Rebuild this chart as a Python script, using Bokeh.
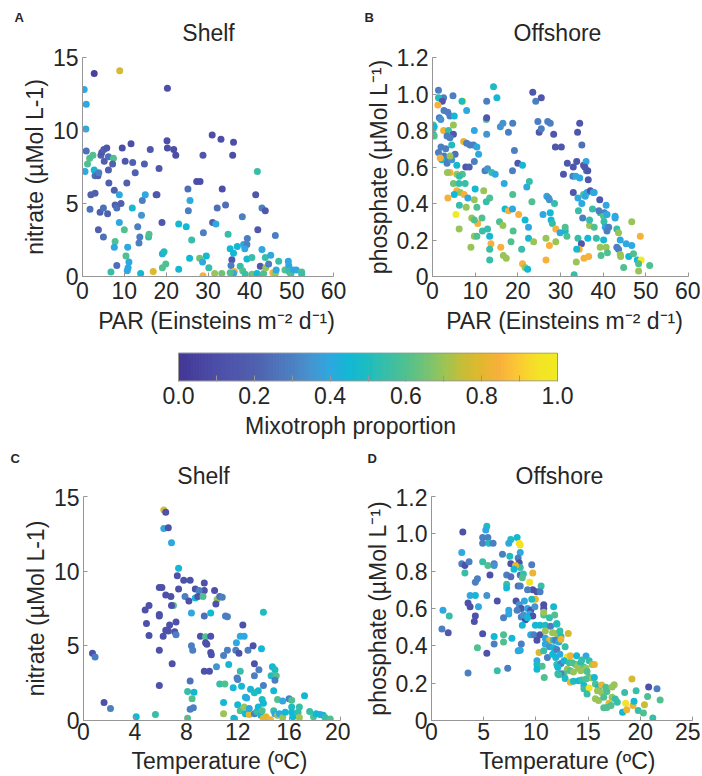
import numpy as np
from bokeh.plotting import figure
from bokeh.layouts import column, row
from bokeh.models import (LinearColorMapper, FixedTicker, ColumnDataSource,
                          CustomJSTickFormatter, Range1d)
from bokeh.core.properties import value
from bokeh.embed import file_html
from bokeh.resources import INLINE

# ---------------- data ----------------
# Panel A: Shelf, PAR vs nitrate, colour = mixotroph proportion
a_par = [2.8, 8.9, 0.4, 0.9, 0.8, 20.3, 0.9, 0.6, 1.2, 1.7,
         2.5, 2.8, 3.0, 3.7, 3.9, 2.0, 3.0, 1.8, 3.8, 4.2,
         5.0, 6.0, 5.0, 4.4, 4.6, 5.1, 5.8, 5.2, 6.2, 7.4,
         7.2, 6.3, 6.2, 7.6, 7.8, 8.2, 9.2, 8.8, 8.8, 7.8,
         7.6, 8.2, 6.8, 9.5, 10.2, 10.6, 10.0, 10.4, 10.8, 11.1,
         10.9, 10.7, 11.6, 12.0, 12.6, 11.9, 13.2, 13.5, 13.7, 14.1,
         14.3, 15.0, 14.8, 16.2, 13.9, 15.8, 15.9, 16.9, 17.6, 17.8,
         18.3, 19.0, 19.1, 19.5, 19.1, 19.9, 20.2, 20.3, 21.8, 22.3,
         23.0, 23.0, 24.8, 25.2, 25.3, 25.7, 25.6, 26.1, 27.3, 28.1,
         28.0, 28.7, 28.8, 28.8, 28.9, 29.6, 30.2, 31.0, 31.1, 31.9,
         32.2, 31.6, 33.1, 33.4, 33.3, 34.2, 34.8, 35.3, 35.7, 35.5,
         36.1, 35.9, 36.1, 36.3, 36.1, 35.3, 37.0, 38.2, 38.5, 39.3,
         39.4, 38.8, 39.3, 40.5, 37.7, 38.3, 38.9, 40.5, 41.4, 41.8,
         41.9, 41.7, 42.5, 42.9, 42.9, 43.7, 42.9, 43.3, 43.7, 43.8,
         44.5, 45.0, 45.5, 46.1, 46.1, 46.9, 46.3, 48.4, 49.2, 49.3,
         49.4, 49.8, 50.4, 51.1, 52.4, 52.4]
a_nitrate = [13.9, 14.1, 12.8, 11.8, 10.1, 12.9, 8.6, 7.2, 7.7, 8.1,
             8.3, 7.3, 6.9, 6.9, 7.1, 5.6, 5.7, 4.6, 3.2, 4.4,
             4.7, 4.3, 2.7, 8.3, 8.5, 8.7, 8.8, 7.9, 8.2, 8.1,
             7.7, 6.4, 7.3, 5.9, 4.9, 4.7, 5.0, 5.6, 3.7, 2.4,
             2.0, 0.75, 0.3, 8.8, 7.9, 6.4, 3.2, 1.4, 2.0, 1.0,
             0.6, 0.4, 9.1, 7.8, 7.1, 4.7, 3.4, 2.3, 2.7, 4.2,
             5.2, 5.6, 7.7, 8.7, 0.2, 2.7, 2.9, 0.35, 5.6, 5.6,
             7.4, 3.7, 1.55, 1.7, 0.6, 0.85, 9.3, 8.8, 8.7, 8.3,
             3.6, 0.5, 3.4, 6.0, 4.5, 5.2, 1.25, 2.5, 6.5, 6.5,
             1.25, 1.0, 0.05, 8.3, 3.0, 1.4, 0.6, 9.7, 3.7, 3.6,
             4.7, 0.2, 9.4, 6.0, 0.2, 4.9, 2.9, 1.9, 1.15, 0.75,
             9.2, 8.3, 1.6, 0.35, 0.2, 0.25, 2.05, 4.1, 2.2, 2.2,
             2.6, 1.9, 1.2, 1.3, 0.7, 0.4, 0.15, 0.15, 5.6, 7.2,
             3.2, 0.2, 0.7, 1.85, 4.7, 4.5, 0.05, 0.2, 1.3, 0.6,
             0.85, 1.45, 0.25, 2.8, 0.2, 1.05, 0.45, 0.45, 1.05, 0.75,
             0.35, 0.15, 0.45, 0.45, 0.3, 0.15]
a_mixo = [0.05, 0.78, 0.4, 0.4, 0.4, 0.1, 0.25, 0.4, 0.6, 0.6,
          0.6, 0.45, 0.25, 0.2, 0.3, 0.2, 0.2, 0.25, 0.2, 0.2,
          0.25, 0.2, 0.25, 0.2, 0.15, 0.2, 0.15, 0.2, 0.25, 0.6,
          0.2, 0.2, 0.2, 0.2, 0.2, 0.25, 0.2, 0.4, 0.4, 0.6,
          0.4, 0.25, 0.55, 0.1, 0.15, 0.2, 0.6, 0.6, 0.4, 0.4,
          0.4, 0.4, 0.1, 0.2, 0.2, 0.45, 0.3, 0.3, 0.3, 0.35,
          0.3, 0.4, 0.2, 0.15, 0.45, 0.55, 0.6, 0.8, 0.15, 0.15,
          0.15, 0.15, 0.4, 0.5, 0.6, 0.6, 0.1, 0.1, 0.1, 0.1,
          0.45, 0.45, 0.45, 0.25, 0.3, 0.4, 0.45, 0.55, 0.1, 0.1,
          0.65, 0.4, 0.85, 0.15, 0.3, 0.45, 0.55, 0.1, 0.2, 0.4,
          0.25, 0.7, 0.1, 0.1, 0.65, 0.25, 0.55, 0.45, 0.15, 0.3,
          0.1, 0.1, 0.45, 0.85, 0.4, 0.6, 0.45, 0.3, 0.4, 0.3,
          0.3, 0.4, 0.45, 0.55, 0.55, 0.6, 0.55, 0.65, 0.15, 0.55,
          0.15, 0.45, 0.15, 0.4, 0.3, 0.15, 0.55, 0.6, 0.55, 0.7,
          0.3, 0.4, 0.85, 0.3, 0.7, 0.55, 0.4, 0.6, 0.4, 0.4,
          0.55, 0.6, 0.4, 0.4, 0.6, 0.55]

# Panel B: Offshore, PAR vs phosphate
b_par = [1.4, 2.6, 1.4, 2.3, 1.25, 4.8, 7.1, 6.9, 8.0, 2.7,
         3.6, 4.1, 5.1, 1.6, 1.95, 0.2, 0.4, 0.2, 0.4, 4.9,
         2.6, 3.75, 4.9, 3.4, 4.1, 7.3, 8.0, 8.8, 9.6, 4.5,
         3.1, 2.0, 1.4, 2.7, 5.3, 2.2, 3.4, 3.75, 4.5, 1.8,
         4.1, 5.7, 7.8, 8.6, 9.8, 10.8, 10.4, 9.8, 12.6, 12.7,
         12.7, 12.7, 14.3, 15.1, 15.9, 16.5, 17.8, 18.8, 19.2, 20.0,
         21.1, 18.75, 12.3, 12.9, 13.9, 14.7, 5.7, 7.0, 6.3, 4.1,
         3.5, 4.9, 6.2, 7.65, 5.7, 6.5, 7.4, 5.1, 8.3, 3.6,
         10.0, 12.0, 13.4, 12.6, 9.8, 6.3, 7.9, 10.4, 5.5, 9.2,
         10.6, 9.8, 11.6, 6.25, 11.7, 12.9, 13.4, 9.8, 10.4, 13.7,
         13.4, 9.0, 13.4, 16.0, 15.7, 16.5, 16.8, 17.0, 17.8, 18.75,
         18.8, 20.2, 18.9, 18.4, 16.6, 17.3, 20.9, 21.1, 21.7, 22.3,
         21.7, 22.5, 22.5, 22.1, 22.7, 23.3, 23.7, 23.5, 24.2, 25.5,
         24.7, 25.0, 25.5, 27.0, 27.6, 28.4, 28.8, 30.2, 25.9, 26.8,
         27.2, 27.4, 27.6, 27.8, 28.1, 28.6, 26.6, 27.4, 28.9, 28.9,
         26.6, 29.9, 30.7, 31.1, 31.6, 31.5, 31.1, 33.0, 32.9, 33.8,
         34.0, 34.5, 35.0, 33.6, 34.5, 33.0, 34.1, 34.2, 35.0, 35.2,
         34.1, 34.9, 34.4, 33.8, 33.7, 33.2, 35.5, 36.6, 35.4, 35.8,
         36.2, 35.4, 36.0, 36.1, 36.4, 36.5, 35.7, 36.4, 36.8, 36.8,
         37.0, 37.7, 37.9, 37.5, 37.9, 38.4, 39.2, 39.3, 39.0, 39.3,
         39.5, 40.1, 40.3, 40.1, 40.2, 40.7, 40.9, 40.7, 41.0, 40.5,
         40.9, 41.3, 42.8, 42.8, 43.2, 43.6, 43.2, 43.6, 44.0, 44.0,
         44.1, 44.8, 45.4, 46.0, 46.7, 46.7, 47.1, 48.0, 48.7, 48.9,
         48.3, 48.3, 50.9]
b_phosphate = [1.02, 0.98, 0.98, 0.96, 0.94, 0.99, 0.96, 0.96, 0.91, 0.91,
               0.90, 0.88, 0.88, 0.87, 0.86, 0.83, 0.82, 0.78, 0.77, 0.83,
               0.80, 0.80, 0.78, 0.77, 0.76, 0.74, 0.73, 0.72, 0.72, 0.72,
               0.70, 0.71, 0.68, 0.66, 0.67, 0.64, 0.62, 0.64, 0.64, 0.65,
               0.66, 0.61, 0.60, 0.60, 0.63, 0.67, 0.71, 0.80, 0.86, 0.87,
               0.96, 0.78, 1.04, 0.98, 0.82, 0.84, 0.79, 0.84, 0.69, 0.62,
               0.61, 0.58, 0.58, 0.59, 0.57, 0.56, 0.56, 0.56, 0.55, 0.57,
               0.57, 0.51, 0.51, 0.51, 0.47, 0.46, 0.45, 0.45, 0.43, 0.43,
               0.48, 0.47, 0.43, 0.41, 0.42, 0.39, 0.38, 0.38, 0.34, 0.32,
               0.29, 0.31, 0.32, 0.26, 0.25, 0.26, 0.22, 0.22, 0.22, 0.18,
               0.15, 0.16, 0.09, 0.16, 0.30, 0.28, 0.51, 0.37, 0.36, 0.37,
               0.45, 0.34, 0.25, 0.19, 0.115, 0.10, 0.15, 0.07, 0.05, 0.04,
               0.31, 0.27, 0.21, 0.49, 0.52, 0.41, 0.19, 1.01, 0.96, 0.98,
               0.85, 0.79, 0.81, 0.85, 0.84, 0.78, 0.71, 0.71, 0.34, 0.44,
               0.43, 0.42, 0.35, 0.31, 0.29, 0.40, 0.21, 0.17, 0.19, 0.26,
               0.09, 0.24, 0.56, 0.25, 0.62, 0.22, 0.27, 0.60, 0.55, 0.63,
               0.79, 0.84, 0.72, 0.55, 0.54, 0.46, 0.43, 0.36, 0.40, 0.32,
               0.21, 0.18, 0.15, 0.15, 0.08, 0.01, 0.10, 0.11, 0.45, 0.44,
               0.46, 0.61, 0.63, 0.58, 0.58, 0.53, 0.60, 0.21, 0.28, 0.31,
               0.47, 0.46, 0.46, 0.37, 0.27, 0.21, 0.42, 0.35, 0.36, 0.16,
               0.115, 0.20, 0.35, 0.33, 0.30, 0.39, 0.34, 0.16, 0.13, 0.27,
               0.25, 0.27, 0.33, 0.32, 0.16, 0.15, 0.26, 0.24, 0.20, 0.12,
               0.11, 0.05, 0.18, 0.11, 0.30, 0.17, 0.125, 0.09, 0.22, 0.09,
               0.07, 0.03, 0.06]
b_mixo = [0.3, 0.3, 0.5, 0.15, 0.85, 0.3, 1.0, 0.5, 0.4, 0.3,
          0.3, 0.3, 0.45, 0.3, 0.35, 0.6, 0.45, 0.55, 0.6, 0.7,
          0.82, 0.55, 0.15, 0.3, 0.3, 0.8, 0.3, 0.3, 0.3, 0.5,
          0.3, 0.3, 0.3, 0.3, 0.25, 0.45, 0.3, 0.3, 0.35, 0.85,
          0.7, 0.45, 0.15, 0.2, 0.3, 0.4, 0.4, 0.4, 0.6, 0.15,
          0.3, 0.35, 0.5, 0.45, 0.35, 0.35, 0.3, 0.3, 0.3, 0.15,
          0.45, 0.3, 0.3, 0.35, 0.55, 0.4, 0.7, 0.6, 0.55, 0.85,
          0.7, 0.65, 0.55, 0.55, 0.85, 0.7, 0.85, 0.45, 0.4, 0.85,
          0.45, 0.7, 0.6, 0.55, 0.7, 0.55, 0.7, 0.6, 1.0, 0.7,
          0.85, 0.6, 0.6, 0.7, 0.55, 0.55, 0.45, 0.7, 0.6, 0.85,
          0.55, 0.7, 0.55, 0.85, 0.6, 0.7, 0.4, 0.45, 0.85, 0.4,
          0.6, 0.85, 0.6, 0.6, 0.7, 0.7, 0.55, 0.85, 0.7, 0.45,
          0.45, 0.4, 0.45, 0.4, 0.55, 0.6, 0.7, 0.15, 0.3, 0.15,
          0.3, 0.15, 0.3, 0.3, 0.3, 0.15, 0.15, 0.15, 0.4, 0.4,
          0.35, 0.35, 0.45, 0.45, 0.55, 0.55, 0.7, 0.85, 0.7, 0.85,
          0.85, 0.4, 0.15, 0.45, 0.15, 0.6, 0.6, 0.15, 0.3, 0.15,
          0.15, 0.15, 0.25, 0.4, 0.4, 0.15, 0.4, 0.55, 0.4, 0.3,
          0.55, 0.15, 0.85, 0.45, 0.7, 0.55, 0.85, 0.85, 0.6, 0.4,
          0.4, 0.15, 0.4, 0.3, 0.15, 0.15, 0.15, 0.45, 0.7, 0.55,
          0.15, 0.4, 0.4, 0.55, 0.6, 0.55, 0.15, 0.55, 0.3, 0.7,
          0.6, 0.45, 0.3, 0.6, 0.55, 0.4, 0.4, 0.7, 0.6, 0.4,
          0.3, 0.3, 0.4, 0.4, 0.3, 0.3, 0.55, 0.7, 0.4, 0.7,
          0.7, 0.6, 0.4, 0.45, 0.7, 0.4, 0.6, 0.45, 0.85, 1.0,
          0.6, 0.7, 0.6]

# Panel C: Shelf, temperature vs nitrate
c_temp = [6.25, 6.4, 6.25, 6.6, 6.85, 7.4, 7.3, 7.8, 8.3, 5.9,
          6.1, 7.4, 8.7, 9.4, 9.4, 9.0, 10.2, 6.4, 6.8, 7.9,
          8.2, 8.7, 8.9, 9.3, 10.4, 10.6, 10.8, 10.3, 7.0, 6.85,
          5.1, 4.8, 5.9, 5.9, 8.4, 9.4, 9.9, 11.05, 11.2, 14.0,
          4.9, 6.7, 7.2, 6.4, 6.6, 7.1, 7.2, 5.1, 6.2, 9.1,
          9.5, 9.9, 12.4, 12.2, 12.5, 9.5, 9.6, 8.4, 8.5, 5.9,
          9.9, 9.95, 11.2, 10.9, 11.9, 11.85, 12.1, 12.8, 13.2, 13.85,
          6.9, 9.4, 9.8, 10.35, 11.3, 12.2, 12.0, 11.95, 13.3, 13.65,
          13.3, 14.7, 14.9, 14.6, 15.0, 14.9, 5.9, 8.3, 10.6, 11.0,
          11.65, 12.3, 13.0, 14.0, 13.6, 13.3, 14.8, 8.1, 8.6, 8.45,
          12.6, 12.7, 13.9, 14.0, 15.1, 15.5, 16.0, 16.2, 16.8, 17.2,
          16.2, 1.6, 2.1, 0.7, 0.9, 8.3, 8.55, 4.1, 5.6, 8.1,
          10.9, 10.9, 11.7, 12.0, 12.2, 12.5, 12.6, 12.9, 12.9, 13.3,
          13.5, 13.6, 13.8, 13.9, 14.0, 14.2, 14.55, 14.8, 14.9, 15.1,
          15.25, 15.5, 15.7, 16.2, 16.3, 16.7, 16.8, 17.6, 17.9, 18.1,
          18.4, 18.65, 18.8, 19.2]
c_nitrate = [14.1, 13.95, 12.85, 12.9, 11.9, 10.2, 9.7, 9.4, 9.4, 8.9,
             8.9, 8.8, 8.8, 9.2, 8.7, 8.7, 8.7, 8.4, 8.3, 8.3,
             8.0, 8.2, 8.3, 8.3, 8.1, 8.3, 8.25, 7.8, 7.7, 7.7,
             7.7, 7.4, 7.1, 7.0, 7.2, 7.0, 7.2, 7.0, 6.95, 7.25,
             6.5, 6.4, 6.6, 6.05, 6.0, 5.95, 5.75, 5.7, 5.65, 5.65,
             5.6, 5.65, 6.4, 5.65, 5.65, 5.2, 5.1, 5.0, 4.7, 4.7,
             4.55, 4.4, 4.7, 4.35, 5.2, 4.7, 4.5, 4.7, 5.0, 4.8,
             3.8, 3.3, 3.3, 3.6, 3.75, 3.3, 2.75, 2.85, 3.8, 3.4,
             3.0, 3.6, 3.4, 3.0, 3.0, 2.7, 2.35, 2.65, 2.45, 2.45,
             2.2, 2.3, 2.1, 2.35, 2.0, 1.85, 2.0, 1.95, 1.9, 1.45,
             1.55, 1.5, 1.4, 1.15, 1.4, 1.3, 1.45, 1.35, 0.9, 1.65,
             0.9, 1.2, 0.8, 4.5, 4.25, 0.75, 0.85, 0.25, 0.4, 0.15,
             1.2, 0.45, 0.15, 1.05, 0.65, 0.9, 0.45, 0.4, 0.8, 0.45,
             0.6, 0.9, 0.35, 0.65, 0.15, 0.25, 0.05, 0.65, 0.45, 0.35,
             0.45, 0.2, 0.55, 0.55, 0.25, 0.55, 0.2, 0.6, 0.25, 0.45,
             0.4, 0.35, 0.2, 0.1]
c_mixo = [0.78, 0.12, 0.4, 0.12, 0.4, 0.45, 0.12, 0.12, 0.12, 0.12,
          0.12, 0.12, 0.12, 0.12, 0.12, 0.3, 0.12, 0.12, 0.12, 0.3,
          0.12, 0.45, 0.12, 0.6, 0.7, 0.25, 0.3, 0.12, 0.6, 0.12,
          0.12, 0.12, 0.12, 0.12, 0.4, 0.25, 0.45, 0.3, 0.3, 0.5,
          0.12, 0.12, 0.12, 0.12, 0.12, 0.12, 0.3, 0.12, 0.12, 0.12,
          0.6, 0.12, 0.12, 0.4, 0.4, 0.12, 0.12, 0.3, 0.3, 0.12,
          0.12, 0.12, 0.3, 0.3, 0.4, 0.3, 0.12, 0.3, 0.12, 0.45,
          0.12, 0.12, 0.12, 0.35, 0.45, 0.55, 0.3, 0.3, 0.12, 0.3,
          0.3, 0.45, 0.5, 0.5, 0.6, 0.3, 0.12, 0.25, 0.55, 0.6,
          0.45, 0.45, 0.45, 0.3, 0.45, 0.5, 0.45, 0.55, 0.45, 0.6,
          0.45, 0.4, 0.5, 0.45, 0.6, 0.4, 0.3, 0.6, 0.55, 0.45,
          0.5, 0.12, 0.3, 0.12, 0.3, 0.3, 0.3, 0.45, 0.55, 0.6,
          0.45, 0.7, 0.45, 0.45, 0.6, 0.7, 0.45, 0.8, 0.4, 0.3,
          0.55, 0.45, 0.45, 0.6, 0.8, 0.8, 0.85, 0.55, 0.4, 0.7,
          0.4, 0.7, 0.45, 0.45, 0.45, 0.55, 0.7, 0.55, 0.6, 0.45,
          0.45, 0.4, 0.55, 0.6]

# Panel D: Offshore, temperature vs phosphate
d_temp = [3.0, 5.3, 5.2, 4.9, 5.4, 4.9, 5.5, 5.9, 7.6, 8.2,
          8.4, 8.5, 7.4, 8.5, 2.9, 6.8, 7.5, 8.3, 2.9, 3.2,
          3.6, 4.9, 5.4, 6.0, 6.0, 7.6, 8.4, 8.5, 8.05, 7.9,
          9.6, 9.7, 3.2, 5.6, 7.2, 7.6, 8.5, 8.8, 8.7, 4.4,
          4.2, 9.4, 7.2, 7.2, 8.3, 8.5, 10.5, 9.7, 9.2, 10.1,
          10.4, 9.95, 8.9, 9.6, 6.3, 4.2, 3.5, 3.7, 4.5, 5.3,
          3.7, 8.1, 8.4, 8.6, 8.2, 9.2, 9.5, 9.9, 10.75, 10.75,
          11.7, 1.1, 1.7, 1.0, 1.6, 4.2, 4.1, 7.4, 7.4, 6.9,
          8.6, 9.4, 9.7, 9.0, 8.8, 9.2, 10.75, 10.75, 11.3, 11.8,
          8.7, 9.95, 10.4, 10.9, 11.4, 12.0, 4.9, 6.0, 6.9, 9.5,
          9.8, 10.1, 10.4, 10.9, 10.9, 11.6, 12.0, 11.3, 11.7, 6.0,
          6.9, 7.7, 8.6, 10.1, 10.9, 11.3, 11.7, 4.4, 8.5, 8.3,
          10.3, 10.75, 11.1, 11.6, 11.9, 5.3, 10.1, 10.1, 10.6, 10.1,
          10.8, 12.1, 6.3, 7.3, 3.5, 12.0, 12.3, 13.1, 12.4, 11.9,
          12.2, 12.4, 12.8, 12.0, 12.3, 13.0, 13.3, 13.9, 14.8, 12.0,
          12.4, 12.1, 12.7, 13.2, 13.5, 13.8, 14.0, 14.3, 14.4, 15.1,
          15.4, 15.6, 13.0, 13.3, 13.6, 12.7, 12.4, 12.2, 14.1, 14.6,
          14.8, 14.3, 14.9, 12.8, 13.3, 13.6, 14.1, 14.4, 14.8, 15.1,
          15.4, 15.6, 14.6, 14.6, 15.1, 14.9, 15.7, 16.0, 16.3, 16.7,
          15.9, 16.3, 16.8, 17.3, 17.5, 15.7, 16.0, 16.5, 17.0, 16.8,
          16.5, 17.2, 17.3, 17.6, 17.8, 18.3, 18.5, 18.6, 18.7, 19.2,
          19.3, 19.6, 19.8, 20.3, 20.4, 20.7, 20.8, 21.6, 21.9, 21.2, 19.4]
d_phosphate = [1.01, 1.04, 1.02, 0.98, 0.98, 0.95, 0.95, 0.95, 0.97, 0.98,
               0.95, 0.94, 0.95, 0.90, 0.90, 0.89, 0.88, 0.87, 0.84, 0.83,
               0.85, 0.85, 0.83, 0.84, 0.83, 0.84, 0.845, 0.82, 0.83, 0.81,
               0.835, 0.79, 0.79, 0.78, 0.78, 0.77, 0.78, 0.785, 0.765, 0.76,
               0.74, 0.74, 0.73, 0.71, 0.72, 0.72, 0.72, 0.70, 0.70, 0.69,
               0.69, 0.65, 0.64, 0.65, 0.64, 0.67, 0.63, 0.61, 0.61, 0.67,
               0.67, 0.64, 0.62, 0.60, 0.59, 0.60, 0.59, 0.61, 0.62, 0.60,
               0.61, 0.59, 0.56, 0.49, 0.47, 0.56, 0.53, 0.59, 0.57, 0.55,
               0.555, 0.57, 0.56, 0.54, 0.565, 0.55, 0.565, 0.58, 0.55, 0.565,
               0.51, 0.51, 0.51, 0.51, 0.505, 0.515, 0.465, 0.45, 0.46, 0.46,
               0.46, 0.45, 0.46, 0.48, 0.44, 0.47, 0.466, 0.43, 0.43, 0.41,
               0.42, 0.44, 0.41, 0.43, 0.41, 0.395, 0.39, 0.39, 0.377, 0.373,
               0.364, 0.373, 0.338, 0.355, 0.338, 0.36, 0.32, 0.30, 0.29, 0.275,
               0.23, 0.25, 0.267, 0.28, 0.254, 0.52, 0.48, 0.466, 0.45, 0.43,
               0.42, 0.435, 0.395, 0.38, 0.355, 0.34, 0.347, 0.347, 0.345, 0.30,
               0.305, 0.285, 0.32, 0.31, 0.31, 0.30, 0.293, 0.31, 0.324, 0.32,
               0.30, 0.30, 0.275, 0.267, 0.26, 0.25, 0.25, 0.245, 0.28, 0.285,
               0.28, 0.267, 0.263, 0.225, 0.205, 0.21, 0.213, 0.217, 0.222, 0.23,
               0.228, 0.23, 0.187, 0.17, 0.174, 0.142, 0.196, 0.178, 0.19, 0.178,
               0.16, 0.15, 0.155, 0.18, 0.192, 0.116, 0.107, 0.124, 0.092, 0.07,
               0.068, 0.08, 0.124, 0.115, 0.098, 0.044, 0.15, 0.092, 0.057, 0.222,
               0.08, 0.16, 0.053, 0.04, 0.085, 0.128, 0.18, 0.17, 0.11, 0.014, 0.103]
d_mixo = [0.12, 0.5, 0.4, 0.3, 0.3, 0.3, 0.5, 0.3, 0.5, 0.45,
          0.95, 0.95, 0.4, 0.4, 0.4, 0.3, 0.5, 0.3, 0.3, 0.12,
          0.3, 0.55, 0.6, 0.3, 0.35, 0.12, 0.12, 0.55, 0.82, 0.45,
          0.3, 0.82, 0.55, 0.12, 0.3, 0.25, 0.25, 0.55, 0.6, 0.3,
          0.3, 0.95, 0.55, 0.45, 0.25, 0.3, 0.55, 0.12, 0.3, 0.12,
          0.3, 0.82, 0.4, 0.5, 0.12, 0.45, 0.12, 0.12, 0.4, 0.35,
          0.4, 0.12, 0.35, 0.15, 0.3, 0.4, 0.12, 0.35, 0.12, 0.12,
          0.45, 0.4, 0.55, 0.3, 0.15, 0.12, 0.12, 0.4, 0.4, 0.3,
          0.3, 0.4, 0.12, 0.12, 0.35, 0.45, 0.6, 0.7, 0.55, 0.6,
          0.45, 0.45, 0.45, 0.5, 0.3, 0.55, 0.12, 0.45, 0.6, 0.4,
          0.3, 0.3, 0.12, 0.7, 0.4, 0.7, 0.7, 0.82, 0.5, 0.3,
          0.6, 0.45, 0.3, 0.12, 0.4, 0.35, 0.45, 0.6, 0.4, 0.4,
          0.78, 0.55, 0.3, 0.45, 0.45, 0.12, 0.4, 0.5, 0.6, 0.45,
          0.6, 0.55, 0.55, 0.3, 0.3, 0.5, 0.55, 0.78, 0.5, 0.3,
          0.4, 0.82, 0.55, 0.3, 0.4, 0.95, 0.82, 0.45, 0.4, 0.55,
          0.3, 0.45, 0.45, 0.55, 0.6, 0.6, 0.7, 0.5, 0.55, 0.55,
          0.7, 0.82, 0.7, 0.6, 0.7, 0.6, 0.3, 0.55, 0.7, 0.6,
          0.7, 0.7, 0.6, 0.5, 0.82, 0.5, 0.45, 0.55, 0.6, 0.6,
          0.7, 0.45, 0.45, 0.55, 0.95, 0.55, 0.6, 0.45, 0.82, 0.6,
          0.7, 0.7, 0.6, 0.7, 0.7, 0.7, 0.7, 0.6, 0.82, 0.6,
          0.6, 0.6, 0.7, 0.55, 0.55, 0.45, 0.55, 0.95, 0.82, 0.78,
          0.82, 0.55, 0.55, 0.6, 0.75, 0.6, 0.12, 0.3, 0.6, 0.55, 0.45]

# axis ticks / labels
par_ticks = [0, 10, 20, 30, 40, 50, 60]
nitrate_ticks = [0, 5, 10, 15]
phosphate_ticks = [0, 0.2, 0.4, 0.6, 0.8, 1.0, 1.2]
temp_shelf_ticks = [0, 4, 8, 12, 16, 20]
temp_off_ticks = [0, 5, 10, 15, 20, 25]
cbar_ticks = [0.0, 0.2, 0.4, 0.6, 0.8, 1.0]
cbar_minor = [0.1, 0.3, 0.5, 0.7, 0.9]

panel_letters = ["A", "B", "C", "D"]
panel_titles = ["Shelf", "Offshore", "Shelf", "Offshore"]
PAR_LABEL = "PAR (Einsteins m\u207b\u00b2 d\u207b\u00b9)"
NIT_LABEL = "nitrate (\u00b5Mol L-1)"
PHOS_LABEL = "phosphate (\u00b5Mol L\u207b\u00b9)"
TEMP_LABEL = "Temperature (\u00baC)"
CBAR_LABEL = "Mixotroph proportion"

# colormap (parula-like, as seen in the colour bar)
cb_stops = [0.0, 0.1, 0.2, 0.3, 0.35, 0.4, 0.45, 0.5, 0.55, 0.6, 0.65, 0.7,
            0.75, 0.8, 0.85, 0.9, 0.95, 1.0]
cb_colors = ['#433896', '#4c4ea8', '#5060ae', '#4c80c2', '#4594d0', '#2ea8e0',
             '#12b8d4', '#1ebcc0', '#38bea8', '#50c090', '#70c278', '#98c458',
             '#c4be38', '#e0b82e', '#f8b03c', '#fcc834', '#f4e226', '#f2ea22']

# ---------------- styling ----------------
FONT = "Liberation Sans"
TXT = "#262626"
AX = "#969696"
FS = "23px"
W = 700


def build_palette(n=256):
    rgb = np.array([[int(h[i:i + 2], 16) for i in (1, 3, 5)] for h in cb_colors], float)
    t = np.linspace(0, 1, n)
    chans = [np.interp(t, cb_stops, rgb[:, k]) for k in range(3)]
    return ["#%02x%02x%02x" % (int(round(r)), int(round(g)), int(round(b)))
            for r, g, b in zip(*chans)]


palette = build_palette()
mapper = LinearColorMapper(palette=palette, low=0, high=1)


def strip(height):
    """A text strip whose frame is the whole canvas, in pixel units (y down)."""
    s = figure(width=W, height=height, x_range=Range1d(0, W), y_range=Range1d(height, 0),
               toolbar_location=None, output_backend="svg",
               x_axis_type=None, y_axis_type=None,
               min_border_left=0, min_border_right=0, min_border_top=0, min_border_bottom=0)
    s.outline_line_color = None
    s.grid.visible = False
    s.background_fill_color = "white"
    s.border_fill_color = "white"
    return s


def put_text(s, xs, ys, texts, size=FS, align="center", bold=False):
    s.text(x=xs, y=ys, text=texts, text_font=value(FONT), text_font_size=size,
           text_color=TXT, text_align=align, text_baseline="middle",
           text_font_style="bold" if bold else "normal")


def panel(width, height, xr, yr, xt, yt, bl, br, bt, bb, ylabel, yfmt=None):
    p = figure(width=width, height=height, x_range=xr, y_range=yr,
               toolbar_location=None, output_backend="svg",
               min_border_left=bl, min_border_right=br,
               min_border_top=bt, min_border_bottom=bb)
    p.outline_line_color = None
    p.grid.visible = False
    p.background_fill_color = "white"
    p.border_fill_color = "white"
    for ax in (p.xaxis[0], p.yaxis[0]):
        ax.axis_line_color = AX
        ax.major_tick_line_color = AX
        ax.major_tick_in = 4
        ax.major_tick_out = 0
        ax.minor_tick_line_color = None
        ax.major_label_text_font = FONT
        ax.major_label_text_font_size = FS
        ax.major_label_text_color = TXT
    p.xaxis.ticker = FixedTicker(ticks=xt)
    p.yaxis.ticker = FixedTicker(ticks=yt)
    p.xaxis.major_label_standoff = 5
    p.yaxis.major_label_standoff = 4
    p.yaxis.axis_label = ylabel
    p.yaxis.axis_label_standoff = 2
    p.yaxis.axis_label_text_font = FONT
    p.yaxis.axis_label_text_font_size = FS
    p.yaxis.axis_label_text_font_style = "normal"
    p.yaxis.axis_label_text_color = TXT
    if yfmt is not None:
        p.yaxis.formatter = yfmt
    return p


def scatter(p, xs, ys, cs):
    src = ColumnDataSource(dict(x=xs, y=ys, c=cs))
    p.scatter("x", "y", source=src, size=7, line_color=None,
              fill_color={"field": "c", "transform": mapper})


phos_fmt = CustomJSTickFormatter(code="return tick == 0 ? '0' : tick.toFixed(1);")

# ---- header strip (letters A, B and titles): y 0..46 ----
h1 = strip(46)
put_text(h1, [14, 364], [17, 17], [panel_letters[0], panel_letters[1]], size="13px",
         align="left", bold=True)
put_text(h1, [208, 557], [32, 32], [panel_titles[0], panel_titles[1]])

# ---- Panel A / B: y 46..307 (frames 57..276) ----
pA = panel(350, 261, (0, 60), (0, 15), par_ticks, nitrate_ticks, 82, 17, 11, 31, NIT_LABEL)
scatter(pA, a_par, a_nitrate, a_mixo)
pB = panel(350, 261, (0, 60), (0, 1.2), par_ticks, phosphate_ticks, 82, 12, 11, 31,
           PHOS_LABEL, phos_fmt)
scatter(pB, b_par, b_phosphate, b_mixo)

# ---- x labels of the top row: y 307..345 ----
h2 = strip(38)
put_text(h2, [216, 564], [13, 13], [PAR_LABEL, PAR_LABEL])

# ---- Colour bar: y 345..412 (bar 353..381, x 178..557) ----
BAR_L, BAR_W = 178, 379
pcb = figure(width=W, height=67,
             x_range=Range1d(-BAR_L / BAR_W, (W - BAR_L) / BAR_W),
             y_range=Range1d(-0.02, 1.02),
             toolbar_location=None, output_backend="svg",
             min_border_left=0, min_border_right=0,
             min_border_top=7, min_border_bottom=31)
pcb.grid.visible = False
pcb.yaxis.visible = False
pcb.outline_line_color = None
pcb.background_fill_color = "white"
pcb.border_fill_color = "white"
n = 128
cb_pal = build_palette(n)
edges = np.linspace(0, 1, n + 1)
pcb.quad(left=edges[:-1], right=edges[1:], bottom=0, top=1,
         fill_color=cb_pal, line_color=cb_pal, line_width=1)
pcb.quad(left=[0], right=[1], bottom=[0], top=[1], fill_color=None,
         line_color=AX, line_width=1)
xa = pcb.xaxis[0]
xa.ticker = FixedTicker(ticks=cbar_ticks, minor_ticks=cbar_minor)
xa.formatter = CustomJSTickFormatter(code="return tick.toFixed(1);")
xa.axis_line_color = None
xa.major_tick_line_color = AX
xa.minor_tick_line_color = AX
xa.major_tick_in = 6
xa.major_tick_out = 0
xa.minor_tick_in = 6
xa.minor_tick_out = 0
xa.major_label_standoff = 5
xa.major_label_text_font = FONT
xa.major_label_text_font_size = FS
xa.major_label_text_color = TXT

# ---- strip: colour bar label, letters C, D and titles: y 412..488 ----
h3 = strip(76)
put_text(h3, [350], [13], [CBAR_LABEL])
put_text(h3, [10, 367], [46, 46], [panel_letters[2], panel_letters[3]],
         size="13px", align="left", bold=True)
put_text(h3, [203, 559], [63, 63], [panel_titles[2], panel_titles[3]])

# ---- Panel C / D: y 488..748 (frames 496..720) ----
pC = panel(350, 260, (0, 20), (0, 15), temp_shelf_ticks, nitrate_ticks, 83, 10, 8, 28, NIT_LABEL)
pC.xaxis.major_label_standoff = 2
scatter(pC, c_temp, c_nitrate, c_mixo)
pD = panel(350, 260, (0, 25), (0, 1.2), temp_off_ticks, phosphate_ticks, 81, 8, 8, 28,
           PHOS_LABEL, phos_fmt)
pD.xaxis.major_label_standoff = 2
scatter(pD, d_temp, d_phosphate, d_mixo)

# ---- bottom strip: x labels of the bottom row: y 748..774 ----
h4 = strip(26)
put_text(h4, [219, 567], [12, 12], [TEMP_LABEL, TEMP_LABEL])

layout = column(h1, row(pA, pB), h2, pcb, h3, row(pC, pD), h4)

with open("out.html", "w") as f:
    f.write(file_html(layout, INLINE))
